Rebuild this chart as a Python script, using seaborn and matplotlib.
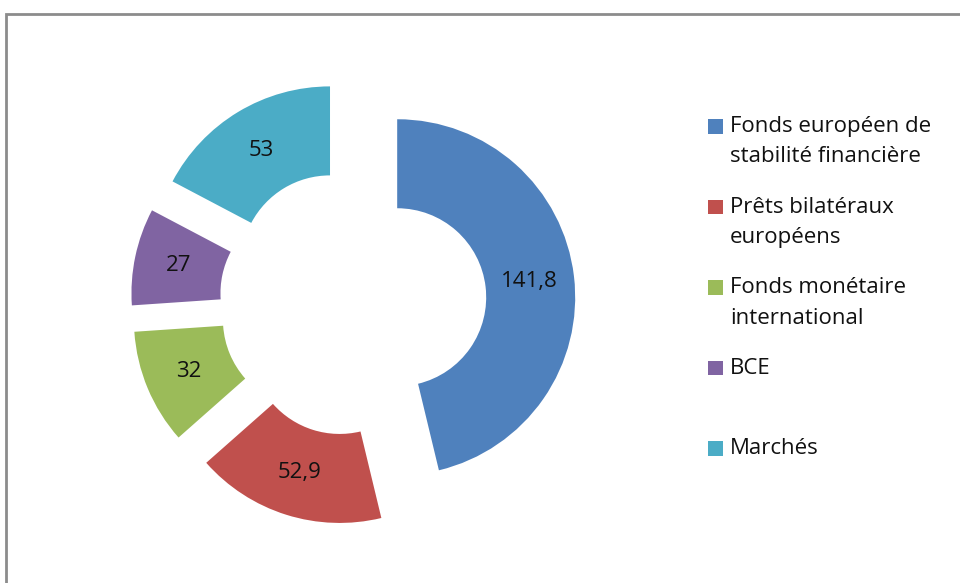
import matplotlib
matplotlib.use("Agg")
import matplotlib.pyplot as plt
import seaborn as sns
from matplotlib.patches import Rectangle, Wedge
from matplotlib.legend_handler import HandlerPatch

# ---- data ----
categories = [
    "Fonds européen de\nstabilité financière",
    "Prêts bilatéraux\neuropéens",
    "Fonds monétaire\ninternational",
    "BCE\n ",
    "Marchés\n ",
]
values = [141.8, 52.9, 32, 27, 53]
value_labels = [f"{v:g}".replace(".", ",") for v in values]
colors = ["#4F81BD", "#C0504D", "#9BBB59", "#8064A2", "#4BACC6"]

sns.set_theme(style="white")
plt.rcParams["font.family"] = ["Open Sans", "DejaVu Sans"]

FS = 16  # points

fig = plt.figure(figsize=(9.6, 5.83), dpi=100)
ax = fig.add_axes([0, 0, 1, 1])

wedges, texts, autotexts = ax.pie(
    values,
    colors=colors,
    startangle=90,
    counterclock=False,
    explode=[0.25] * len(values),
    radius=1,
    wedgeprops=dict(width=0.5, edgecolor="none"),
    autopct="%1.1f",
    pctdistance=0.75,
    textprops=dict(fontsize=FS, color="#111111"),
)
for t, lab in zip(autotexts, value_labels):
    t.set_text(lab)

# place the pie so it sits where the reference has it (pixels)
R_px, cx, cy = 178, 353, 302.5
W, H = 960, 583
ax.set_xlim(-cx / R_px, (W - cx) / R_px)
ax.set_ylim(-(H - cy) / R_px, cy / R_px)
ax.axis("off")


# legend squares aligned with the first line of each label
def first_line_square(legend, orig_handle, xdescent, ydescent, width, height, fontsize):
    shift = 0.7 * fontsize
    return Rectangle((-xdescent, -ydescent + shift), width, height)


leg = fig.legend(
    wedges,
    categories,
    loc="upper left",
    bbox_to_anchor=(708 / W, 1 - 116 / H),
    frameon=False,
    fontsize=FS,
    handlelength=0.68,
    handleheight=0.63,
    handletextpad=0.3,
    labelspacing=1.32,
    borderpad=0,
    borderaxespad=0,
    handler_map={Wedge: HandlerPatch(patch_func=first_line_square)},
)
for t in leg.get_texts():
    t.set_color("#111111")
    t.set_linespacing(1.58)

# outer frame (only top and left edges fall inside the picture)
fig.add_artist(Rectangle((6 / W, -0.1), 1.2, 1.1 - 14 / H, transform=fig.transFigure,
                         fill=False, edgecolor="#8c8c8c", linewidth=2))

fig.savefig("out.png", dpi=100)
